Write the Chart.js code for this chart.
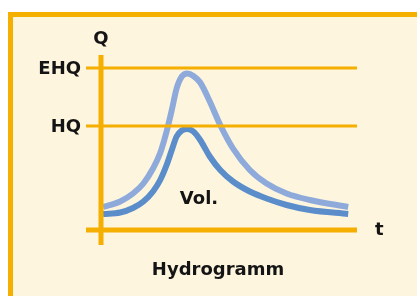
<!DOCTYPE html>
<html>
<head>
<meta charset="utf-8">
<script src="https://cdn.jsdelivr.net/npm/chart.js@4/dist/chart.umd.min.js"></script>
<style>
  html, body { margin: 0; padding: 0; background: #ffffff; }
  #wrap { width: 417px; height: 296px; }
</style>
</head>
<body>
<div id="wrap"><canvas id="hydro" width="417" height="296"></canvas></div>
<script>
// time t (arbitrary units), shared by both hydrographs
const time = [0.25, 2.4, 4.0, 5.3, 6.5, 7.4, 8.2, 8.85, 9.45, 10.1, 10.8, 11.55, 12.4, 13.6, 14.9, 16.5, 18.6, 20.7, 23.2, 26.1, 30.9];
// discharge Q (arbitrary units)
const qExtreme = [4.6, 5.7, 7.3, 9.3, 12.3, 15.4, 19.7, 24, 28.3, 30.7, 31.3, 30.8, 29.5, 25.7, 21, 16.3, 12, 9.3, 7.3, 6, 4.6];
const qFlood   = [3.2, 3.5, 4.4, 5.7, 7.7, 10, 13, 16, 18.7, 19.9, 20.2, 19.7, 18, 14.7, 12, 9.7, 7.7, 6.3, 5, 4, 3.2];

const levelNames  = ['EHQ', 'HQ'];
const levelValues = [32.4, 20.8];

const volLabel = {text: 'Vol.', x: 12.25, y: 6.2};

const ORANGE = '#f4af00';
const BG = '#fef5df';
const FONT = 'bold 18px "DejaVu Sans", sans-serif';

function toPoints(xs, ys) {
    return xs.map((x, i) => ({x: x, y: ys[i]}));
}

const hydroPlugin = {
    id: 'hydro',
    beforeDraw(chart) {
        const ctx = chart.ctx;
        ctx.save();
        ctx.fillStyle = '#ffffff';
        ctx.fillRect(0, 0, chart.width, chart.height);
        // frame
        ctx.fillStyle = ORANGE;
        ctx.fillRect(8, 12, chart.width - 8, chart.height - 12);
        ctx.fillStyle = BG;
        ctx.fillRect(13, 17, chart.width - 13, chart.height - 17);
        ctx.restore();
    },
    afterDatasetsDraw(chart) {
        const ctx = chart.ctx;
        const xs = chart.scales.x;
        const ys = chart.scales.y;
        const area = chart.chartArea;
        const x0 = xs.getPixelForValue(0);
        const y0 = ys.getPixelForValue(0);
        ctx.save();
        ctx.strokeStyle = ORANGE;

        // EHQ / HQ levels
        ctx.lineWidth = 3;
        levelValues.forEach(v => {
            const py = ys.getPixelForValue(v);
            ctx.beginPath();
            ctx.moveTo(x0 - 15, py);
            ctx.lineTo(area.right, py);
            ctx.stroke();
        });

        // axes
        ctx.lineWidth = 5;
        ctx.beginPath();
        ctx.moveTo(x0, area.top);
        ctx.lineTo(x0, y0 + 15);
        ctx.moveTo(x0 - 15, y0);
        ctx.lineTo(area.right, y0);
        ctx.stroke();

        // texts
        ctx.fillStyle = '#141414';
        ctx.font = FONT;
        ctx.textBaseline = 'middle';
        ctx.textAlign = 'right';
        levelNames.forEach((name, i) => {
            ctx.fillText(name, x0 - 20, ys.getPixelForValue(levelValues[i]) + 1);
        });
        ctx.textAlign = 'center';
        ctx.fillText('Q', x0, area.top - 16);
        ctx.fillText(volLabel.text, xs.getPixelForValue(volLabel.x), ys.getPixelForValue(volLabel.y));
        ctx.fillText('Hydrogramm', 218, 270);
        ctx.textAlign = 'left';
        ctx.fillText('t', area.right + 18, y0);
        ctx.restore();
    }
};

new Chart(document.getElementById('hydro'), {
    type: 'line',
    data: {
        datasets: [
            {
                label: 'EHQ',
                data: toPoints(time, qExtreme),
                borderColor: '#8eaadb',
                borderWidth: 6,
                pointRadius: 0,
                cubicInterpolationMode: 'monotone',
                fill: false,
            },
            {
                label: 'HQ',
                data: toPoints(time, qFlood),
                borderColor: '#5a8dc9',
                borderWidth: 6,
                pointRadius: 0,
                cubicInterpolationMode: 'monotone',
                fill: false,
            },
        ],
    },
    options: {
        responsive: false,
        animation: false,
        layout: {
            padding: {left: 101, right: 60, top: 55, bottom: 66},
        },
        plugins: {
            legend: {display: false},
            tooltip: {enabled: false},
        },
        scales: {
            x: {type: 'linear', min: 0, max: 32, display: false},
            y: {type: 'linear', min: 0, max: 35, display: false},
        },
    },
    plugins: [hydroPlugin],
});
</script>
</body>
</html>
